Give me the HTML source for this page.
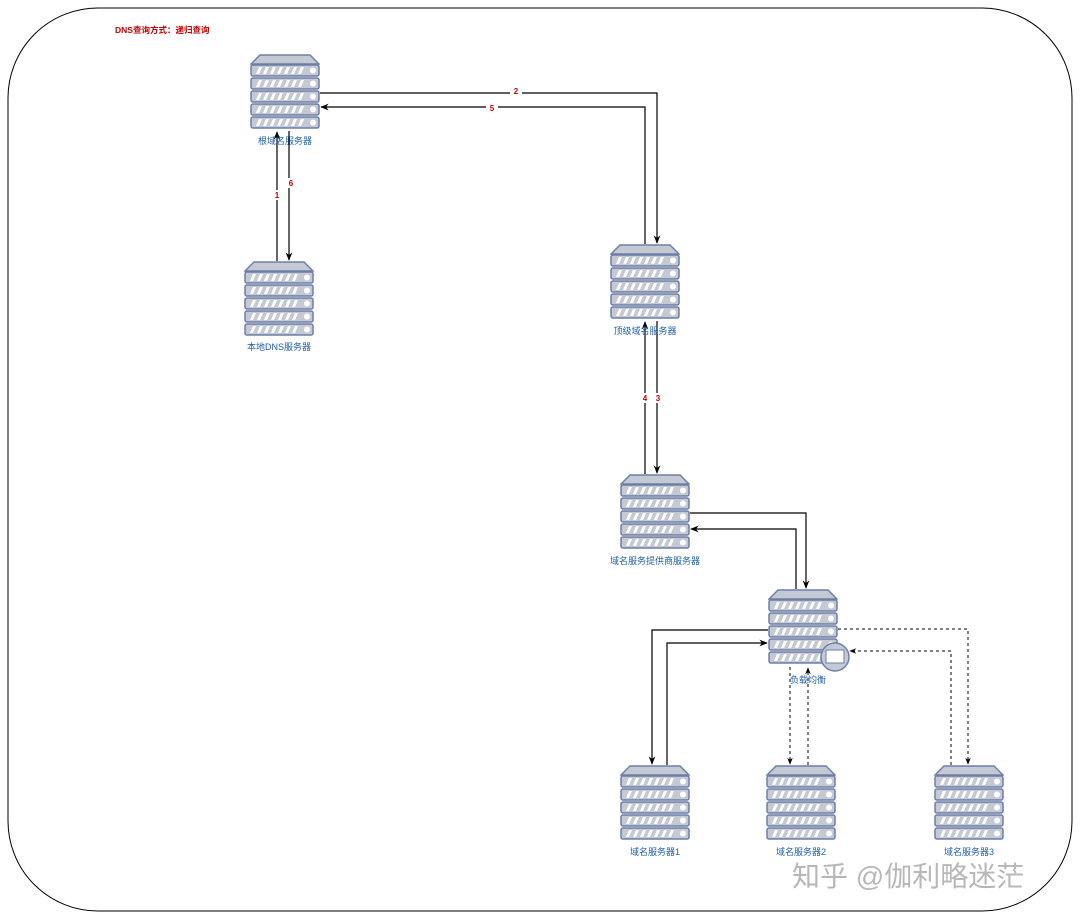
<!DOCTYPE html>
<html><head><meta charset="utf-8"><style>
html,body{margin:0;padding:0;background:#fff;}
svg text{font-family:"Liberation Sans","Noto Sans CJK SC",sans-serif;}
</style></head><body>
<svg width="1080" height="919" viewBox="0 0 1080 919" xmlns="http://www.w3.org/2000/svg">
<defs>
<symbol id="srv" viewBox="0 0 70 77" width="70" height="77">
<path d="M10 1 H60 L69 10 H1 Z" fill="#c5c9d3" stroke="#6d7fa8" stroke-width="1.5"/>
<g id="row">
<rect x="1" y="11" width="68" height="11" rx="2" fill="#c5c9d3" stroke="#6d7fa8" stroke-width="1.5"/>
<path d="M6 20 l3 -7 h3 l-3 7z M13 20 l3 -7 h3 l-3 7z M20 20 l3 -7 h3 l-3 7z M27 20 l3 -7 h3 l-3 7z M34 20 l3 -7 h3 l-3 7z M41 20 l3 -7 h3 l-3 7z M48 20 l3 -7 h3 l-3 7z" fill="#fff"/>
<circle cx="63" cy="16.5" r="3" fill="#fff"/>
</g>
<use href="#row" y="13"/><use href="#row" y="26"/><use href="#row" y="39"/><use href="#row" y="52"/>
</symbol>
<marker id="ar" viewBox="0 0 10 10" refX="9" refY="5" markerWidth="7" markerHeight="7" orient="auto"><path d="M0 1 L10 5 L0 9 L3 5 Z" fill="#000"/></marker>
</defs>
<rect x="8" y="8" width="1064" height="903" rx="90" fill="#fff" stroke="#000" stroke-width="1"/>
<text x="115" y="33" font-size="8.5" font-weight="bold" fill="#c00000">DNS查询方式：递归查询</text>

<g fill="none" stroke="#000" stroke-width="1.2" marker-end="url(#ar)">
<path d="M277 261 V132"/>
<path d="M289 131 V260"/>
<path d="M320 93 H657 V243"/>
<path d="M645 244 V107 H321"/>
<path d="M645 474 V322"/>
<path d="M657 321 V473"/>
<path d="M690 513 H806 V588"/>
<path d="M796 589 V529 H691"/>
<path d="M768 630 H652 V764"/>
<path d="M667 765 V643 H767"/>
</g>
<g fill="none" stroke="#000" stroke-width="1" stroke-dasharray="3,3" marker-end="url(#ar)">
<path d="M790 667 V764"/>
<path d="M808 765 V668"/>
<path d="M838 629 H968 V764"/>
<path d="M951 765 V651 H850"/>
</g>
<g font-size="8" font-weight="bold" fill="#c00000" text-anchor="middle">
<rect x="272" y="190" width="10" height="10" fill="#fff"/><text x="277" y="198">1</text>
<rect x="286" y="178" width="10" height="10" fill="#fff"/><text x="291" y="186">6</text>
<rect x="510" y="87" width="12" height="10" fill="#fff"/><text x="516" y="94">2</text>
<rect x="486" y="102" width="12" height="10" fill="#fff"/><text x="492" y="111">5</text>
<rect x="640" y="393" width="10" height="10" fill="#fff"/><text x="645" y="401">4</text>
<rect x="653" y="393" width="10" height="10" fill="#fff"/><text x="658" y="401">3</text>
</g>

<use href="#srv" x="250" y="54"/>
<use href="#srv" x="244" y="261"/>
<use href="#srv" x="610" y="244"/>
<use href="#srv" x="620" y="474"/>
<use href="#srv" x="768" y="589"/>
<use href="#srv" x="620" y="765"/>
<use href="#srv" x="766" y="765"/>
<use href="#srv" x="934" y="765"/>
<circle cx="835" cy="657" r="14" fill="#c5c9d3" stroke="#6d7fa8" stroke-width="1.5"/>
<rect x="826" y="650" width="18" height="13" fill="#fff" stroke="#6d7fa8" stroke-width="1"/>

<g font-size="9" fill="#1f5fa6" text-anchor="middle">
<text x="285" y="144">根域名服务器</text>
<text x="279" y="350">本地DNS服务器</text>
<text x="645" y="334">顶级域名服务器</text>
<text x="655" y="564">域名服务提供商服务器</text>
<text x="808" y="683">负载均衡</text>
<text x="655" y="855">域名服务器1</text>
<text x="801" y="855">域名服务器2</text>
<text x="969" y="855">域名服务器3</text>
</g>
<text x="792" y="886" font-size="28" fill="#999" opacity="0.7">知乎 @伽利略迷茫</text>
</svg>
</body></html>
